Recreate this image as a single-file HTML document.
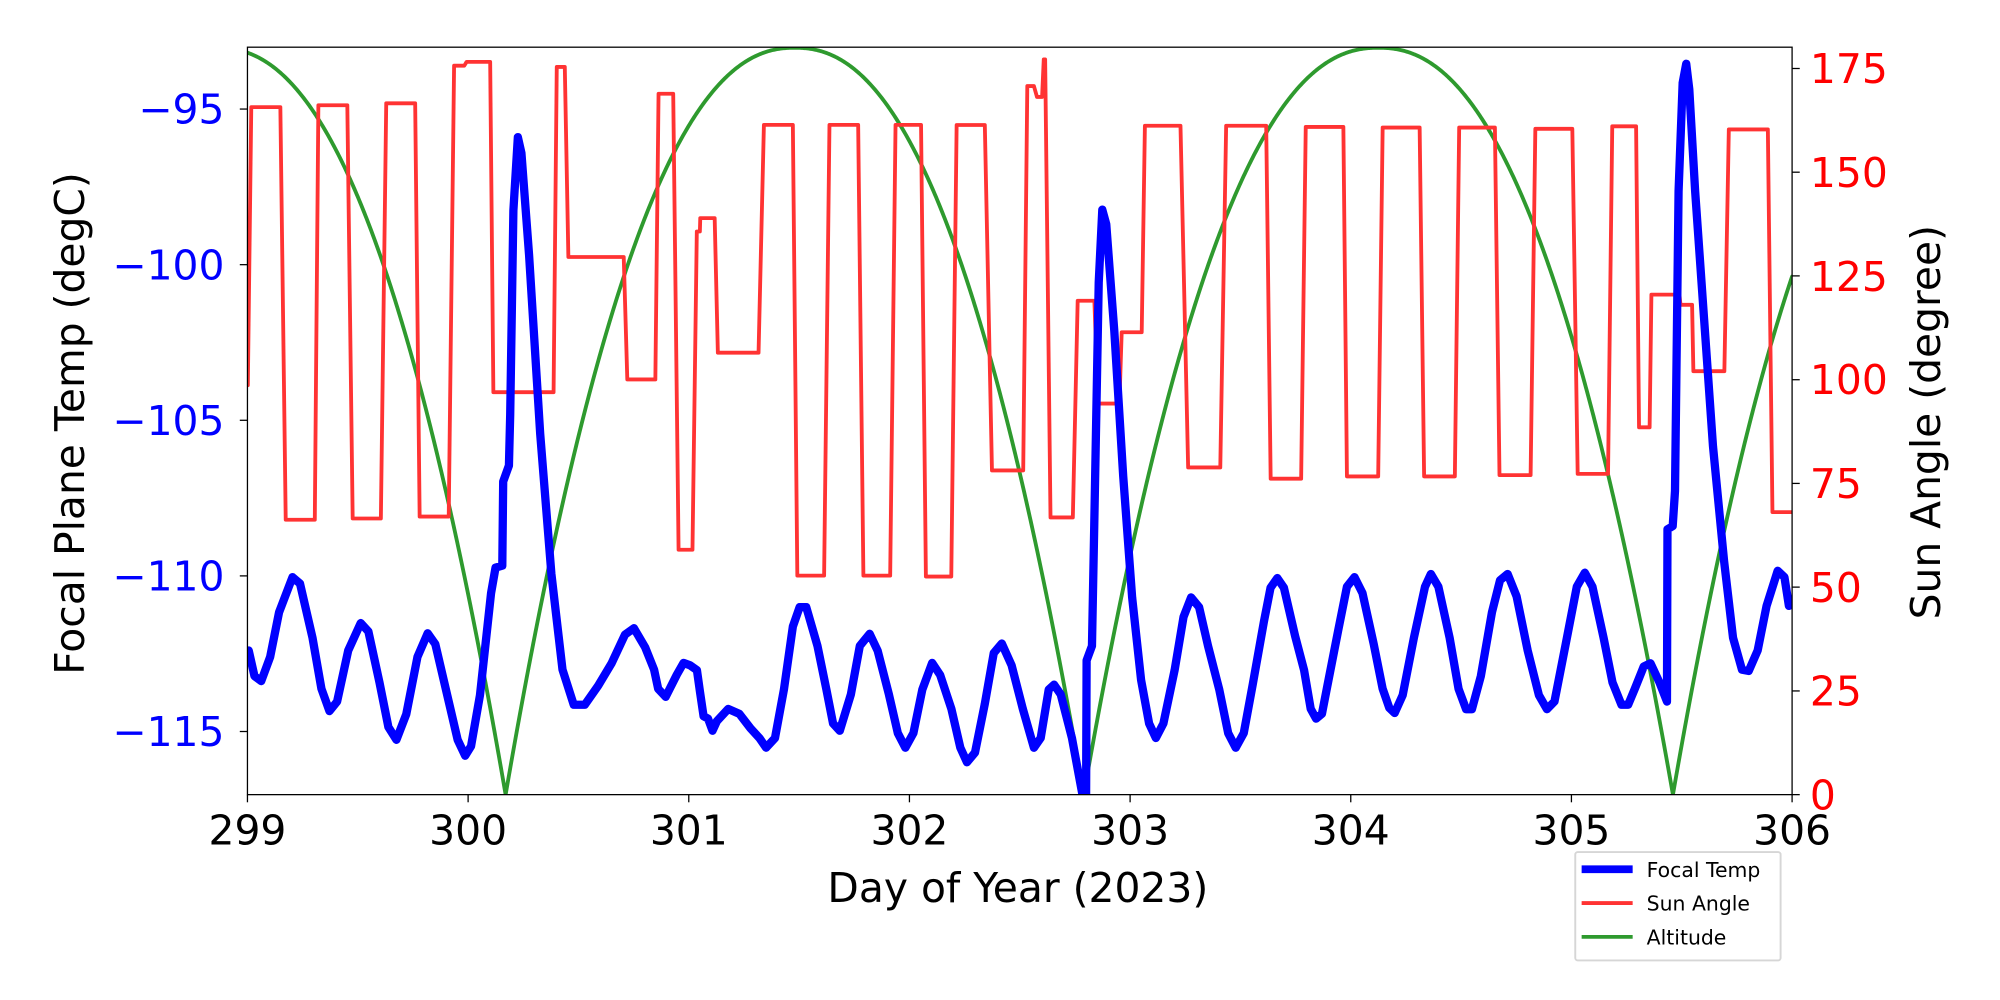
<!DOCTYPE html>
<html><head><meta charset="utf-8"><style>
html,body{margin:0;padding:0;background:#fff;}
svg{display:block;}
text{font-family:"DejaVu Sans","Liberation Sans",sans-serif;}
</style></head><body>
<svg id="s" width="2000" height="1000" viewBox="0 0 1568 784" xmlns="http://www.w3.org/2000/svg">
<defs><clipPath id="c"><rect x="194" y="37" width="1211" height="586"/></clipPath></defs>
<rect width="1568" height="784" fill="#fff"/>
<g clip-path="url(#c)" fill="none" stroke-linejoin="round" stroke-linecap="round">
<path id="green" stroke="#2e9a2e" stroke-width="3" d=""/>
<path stroke="#ff3333" stroke-width="3" d="M194.3,302 L197,84 L219.8,84 L224,407.5 L246.8,407.5 L249.6,82.5 L272.3,82.5 L276.5,406.5 L298.6,406.5 L302.8,81 L325.5,81 L329,405 L351.8,405 L356,51.5 L364,51.5 L365.8,48.5 L384.3,48.5 L386.8,307.5 L434,307.5 L436.5,52.5 L442.8,52.5 L445.6,201.5 L489,201.5 L491.8,297.5 L513.8,297.5 L516.3,73.5 L527.8,73.5 L532,431 L542.9,431 L546.3,181.5 L548.7,181.5 L549,171 L560.3,171 L562.8,276.5 L594.7,276.5 L598.9,97.9 L621.6,97.9 L625.1,451.3 L646.1,451.3 L650.3,97.9 L672.8,97.9 L676.9,451.3 L697.9,451.3 L702.1,97.9 L722.1,97.9 L725.9,452 L745.8,452 L750,98 L772.1,98 L777.7,368.8 L802.2,368.8 L805.4,67.5 L810.6,67.5 L813,76 L817,76 L818.3,46.6 L819.4,46.6 L823.6,405.7 L841.1,405.7 L844.9,235.8 L858,235.8 L860.8,316.4 L877.6,316.4 L879.4,260.5 L895.1,260.5 L897.6,98.6 L925.5,98.6 L931.5,366.5 L956.7,366.5 L961.3,98.6 L992.7,98.6 L996.2,375.3 L1020.1,375.3 L1023.7,99.5 L1053.2,99.5 L1056,373.5 L1080.5,373.5 L1084,100 L1113,100 L1116.5,373.5 L1140.6,373.5 L1144,100 L1172,100 L1175.6,372.5 L1200,372.5 L1203.7,101 L1232.7,101 L1236.9,371.5 L1260.7,371.5 L1264,99 L1282.7,99 L1285,335 L1293.3,335 L1294.7,231 L1316.7,231 L1317.5,239 L1326.6,239 L1327.6,291 L1351.9,291 L1355.4,101.5 L1386,101.5 L1389.6,401.5 L1406,401.5"/>
<path stroke="#0000ff" stroke-width="6.5" d="M195,510 L199.5,530 L204.8,534 L211.8,515 L218.8,480 L229.3,452.5 L235.2,457.5 L245,500 L252,540 L258.3,557.5 L264.3,550 L273,510 L282.8,488.5 L288.8,495 L297.5,535 L304.5,570 L310.8,580 L318.5,560 L327.3,515 L335.3,496.5 L341.3,505 L351.8,550 L358.8,580 L364.7,592.5 L369.3,585 L376.3,545 L385,465 L388.5,445 L393.8,443.5 L394.5,377.5 L399,365 L400,325 L402.5,165 L406,107.5 L408.8,120 L414.8,200 L423.5,340 L432.3,450 L441,525 L449.8,552.5 L458.5,552.5 L469,537.5 L479.5,520 L490,497.5 L497,492.5 L505.8,507.5 L512.8,525 L516,540 L521.9,546.3 L530.6,529 L535.9,519.7 L541,521.6 L546.4,525.4 L548.8,542.5 L551.6,561.5 L555.1,563.4 L558.6,572.9 L562.1,565.3 L570.9,555.8 L579.6,559.6 L588.4,571 L595.4,578.6 L600.6,586.2 L607.6,578.6 L614.6,540.6 L621.6,491.2 L626.9,476 L632.1,476 L640.9,506.4 L647.9,540.6 L653.1,567.2 L658.4,572.9 L667.1,544.4 L674.1,506.4 L681.8,496.9 L688.1,510.2 L696.9,544.4 L703.9,574.8 L709.8,586.2 L716.1,574.8 L723.1,540.6 L730.8,519.7 L737.1,529.2 L745.9,555.8 L752.9,586.2 L758.1,597.6 L764.4,590 L772.1,551.8 L779.1,512 L785.4,504.5 L793.1,521.6 L801.9,555.8 L810.6,586.2 L815.9,578.6 L822.2,540.6 L826.4,536.8 L831.6,544.4 L840.4,578.6 L849,625 L851.5,625 L851.9,517.8 L856.1,506.4 L857.9,411.4 L861.4,221.4 L864.2,164.4 L867.3,175.8 L873.6,259.4 L880.6,373.4 L887.6,468.4 L894.6,533 L900.9,567.2 L906.2,578.6 L912.1,567.2 L920.9,525.4 L927.9,483.6 L933.8,468.4 L940.1,476 L947.1,506.4 L955.9,540.6 L962.9,574.8 L968.8,586.2 L975.1,574.8 L982.1,536.8 L990.9,487.4 L996.1,460.8 L1001.4,453.2 L1006.6,460.8 L1015.4,498.8 L1022.4,525.4 L1027.6,555.8 L1031.8,563.4 L1036.4,559.6 L1040.2,540 L1049,495 L1056,460 L1061.9,452.5 L1068.2,465 L1077,505 L1084,540 L1089.2,555 L1093.4,559 L1099.7,545 L1108.5,500 L1117.2,460 L1121.8,450 L1127.7,460 L1136.5,500 L1143.5,540 L1149.4,556 L1154,556 L1161,530 L1169.7,480 L1176,455 L1182,450 L1189,467.5 L1197.7,510 L1206.5,545 L1212.8,556 L1218.7,550 L1227.5,505 L1236.2,460 L1242.5,449 L1248.5,460 L1257.2,500 L1264.2,535 L1271.2,552.5 L1276.5,552.5 L1281.7,540 L1288.7,522.5 L1294,520 L1301,535 L1306.9,550 L1307.3,415 L1311.4,412.5 L1313.2,385 L1316,150 L1319.2,65 L1322,50 L1324.4,70 L1329,150 L1336,250 L1343,350 L1351.7,440 L1358.7,500 L1365.7,525 L1371,526 L1378,510 L1385,475 L1393.7,447.5 L1399,452.5 L1402.5,475"/>
</g>
<rect x="194" y="37" width="1211" height="586" fill="none" stroke="#000" stroke-width="1"/>
<g stroke="#000" stroke-width="1">
<line x1="194" y1="623" x2="194" y2="629"/><line x1="367" y1="623" x2="367" y2="629"/><line x1="540" y1="623" x2="540" y2="629"/><line x1="713" y1="623" x2="713" y2="629"/><line x1="886" y1="623" x2="886" y2="629"/><line x1="1059" y1="623" x2="1059" y2="629"/><line x1="1232" y1="623" x2="1232" y2="629"/><line x1="1405" y1="623" x2="1405" y2="629"/>
<line x1="188" y1="85.5" x2="194" y2="85.5"/><line x1="188" y1="207.5" x2="194" y2="207.5"/><line x1="188" y1="329.5" x2="194" y2="329.5"/><line x1="188" y1="451.5" x2="194" y2="451.5"/><line x1="188" y1="573.5" x2="194" y2="573.5"/>
<line x1="1405" y1="623" x2="1411" y2="623"/><line x1="1405" y1="541.7" x2="1411" y2="541.7"/><line x1="1405" y1="460.3" x2="1411" y2="460.3"/><line x1="1405" y1="379" x2="1411" y2="379"/><line x1="1405" y1="297.7" x2="1411" y2="297.7"/><line x1="1405" y1="216.3" x2="1411" y2="216.3"/><line x1="1405" y1="135" x2="1411" y2="135"/><line x1="1405" y1="53.7" x2="1411" y2="53.7"/>
</g>
<g font-size="32" text-anchor="middle" fill="#000">
<text x="194" y="662">299</text><text x="367" y="662">300</text><text x="540" y="662">301</text><text x="713" y="662">302</text><text x="886" y="662">303</text><text x="1059" y="662">304</text><text x="1232" y="662">305</text><text x="1405" y="662">306</text>
</g>
<g font-size="32" text-anchor="end" fill="#0000ff">
<text x="176" y="97">−95</text><text x="176" y="219">−100</text><text x="176" y="341">−105</text><text x="176" y="463">−110</text><text x="176" y="585">−115</text>
</g>
<g font-size="32" text-anchor="start" fill="#ff0000">
<text x="1419" y="634.5">0</text><text x="1419" y="553">25</text><text x="1419" y="472">50</text><text x="1419" y="390.5">75</text><text x="1419" y="309">100</text><text x="1419" y="228">125</text><text x="1419" y="146.5">150</text><text x="1419" y="65">175</text>
</g>
<text x="798" y="707" font-size="32" text-anchor="middle">Day of Year (2023)</text>
<text transform="translate(66,332) rotate(-90)" font-size="32" text-anchor="middle">Focal Plane Temp (degC)</text>
<text transform="translate(1521,331) rotate(-90)" font-size="32" text-anchor="middle">Sun Angle (degree)</text>
<rect x="1235" y="668" width="161" height="85" fill="#fff" stroke="#d6d6d6" stroke-width="1.5" rx="2"/>
<line x1="1240" y1="681.5" x2="1280" y2="681.5" stroke="#0000ff" stroke-width="6"/>
<line x1="1240" y1="708" x2="1280" y2="708" stroke="#ff3333" stroke-width="3"/>
<line x1="1240" y1="734.5" x2="1280" y2="734.5" stroke="#2e9a2e" stroke-width="3"/>
<g font-size="16" fill="#000">
<text x="1291" y="687.5">Focal Temp</text><text x="1291" y="714">Sun Angle</text><text x="1291" y="740.5">Altitude</text>
</g>
</svg>
<script>
(function(){
var Z=[297.55,300.17,302.79,305.46,308.1];
var d="";
for(var t=299;t<=306.0001;t+=0.005){
  var i=0;while(i<Z.length-2&&t>Z[i+1])i++;
  var a=Z[i],b=Z[i+1],m=(a+b)/2,h=(b-a)/2;
  var u=Math.min(1,Math.abs(t-m)/h);
  var alt=180*(1-Math.pow(u,2.25));
  var x=194+(t-299)*173, y=623-alt*3.253;
  d+=(d?"L":"M")+x.toFixed(2)+","+y.toFixed(2);
}
document.getElementById("green").setAttribute("d",d);
})();
</script>
</body></html>
